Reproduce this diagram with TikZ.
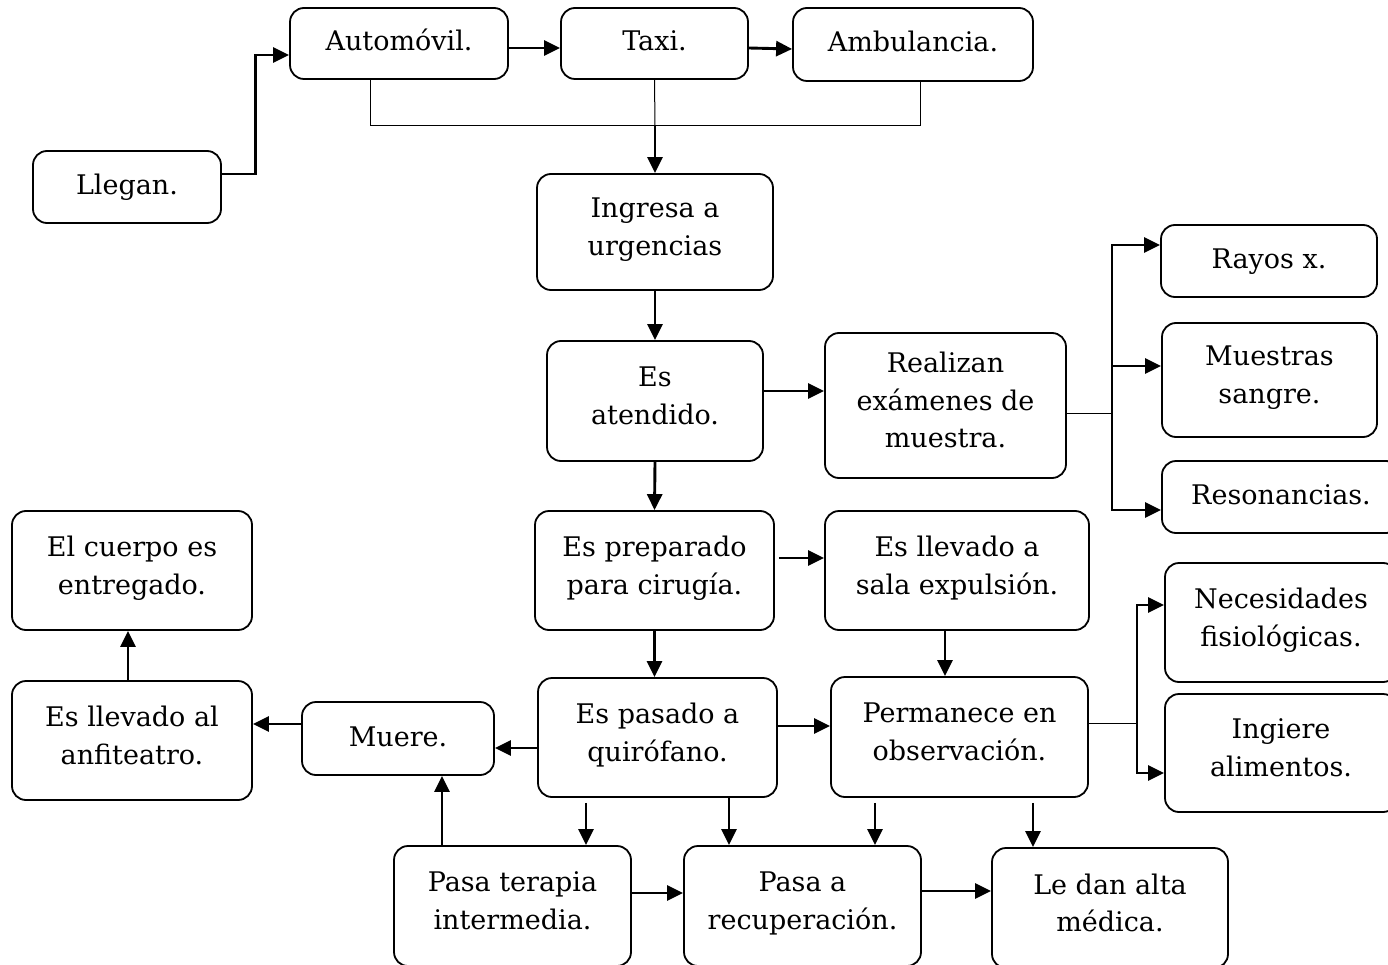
\documentclass[tikz,border=0pt]{standalone}
\usepackage{fontspec}
\setmainfont{DejaVu Serif}
\usetikzlibrary{arrows.meta,calc}
\begin{document}
\begin{tikzpicture}[x=1pt,y=-1pt,
  box/.style={draw,line width=1.8pt,rounded corners=14pt,align=center,
    inner sep=0pt,font=\fontsize{27}{37.5}\selectfont,
    execute at begin node=\rule{0pt}{26pt},
    execute at end node=\rule[-11pt]{0pt}{11pt}},
  arr/.style={line width=2.9pt,-{Triangle[length=16pt,width=15pt]}},
  link/.style={line width=1pt}]
\useasboundingbox (0,0) rectangle (1388,965);

% boxes
\node[box,minimum width=188pt,minimum height=72pt]  (llegan)   at (127,187)    {Llegan.};
\node[box,minimum width=218pt,minimum height=71pt]  (auto)     at (399,43.5)   {Automóvil.};
\node[box,minimum width=187pt,minimum height=71pt]  (taxi)     at (654.5,43.5) {Taxi.};
\node[box,minimum width=240pt,minimum height=73pt]  (ambu)     at (913,44.5)   {Ambulancia.};
\node[box,minimum width=236pt,minimum height=116pt] (ingresa)  at (655,232)    {Ingresa a\\urgencias};
\node[box,minimum width=216pt,minimum height=120pt] (atendido) at (655,401)    {Es\\atendido.};
\node[box,minimum width=241pt,minimum height=145pt] (realizan) at (945.5,405.5){Realizan\\exámenes de\\muestra.};
\node[box,minimum width=216pt,minimum height=72pt]  (rayos)    at (1269,261)   {Rayos x.};
\node[box,minimum width=215pt,minimum height=114pt] (muestras) at (1269.5,380) {Muestras\\sangre.};
\node[box,minimum width=238pt,minimum height=72pt]  (reson)    at (1281,497)   {Resonancias.};
\node[box,minimum width=240pt,minimum height=119pt] (cuerpo)   at (132,570.5)  {El cuerpo es\\entregado.};
\node[box,minimum width=239pt,minimum height=119pt] (prep)     at (654.5,570.5){Es preparado\\para cirugía.};
\node[box,minimum width=264pt,minimum height=119pt] (sala)     at (957,570.5)  {Es llevado a\\sala expulsión.};
\node[box,minimum width=232pt,minimum height=119pt] (necesid)  at (1281,622.5) {Necesidades\\fisiológicas.};
\node[box,minimum width=232pt,minimum height=118pt] (ingiere)  at (1281,753)   {Ingiere\\alimentos.};
\node[box,minimum width=240pt,minimum height=119pt] (anfi)     at (132,740.5)  {Es llevado al\\anfiteatro.};
\node[box,minimum width=192pt,minimum height=73pt]  (muere)    at (398,738.5)  {Muere.};
\node[box,minimum width=239pt,minimum height=119pt] (quiro)    at (657.5,737.5){Es pasado a\\quirófano.};
\node[box,minimum width=257pt,minimum height=120pt] (observ)   at (959.5,737)  {Permanece en\\observación.};
\node[box,minimum width=237pt,minimum height=120pt] (terapia)  at (512.5,906)  {Pasa terapia\\intermedia.};
\node[box,minimum width=237pt,minimum height=120pt] (recup)    at (802.5,906)  {Pasa a\\recuperación.};
\node[box,minimum width=236pt,minimum height=120pt] (alta)     at (1110,908)   {Le dan alta\\médica.};

% arrival and means of transport
\draw[arr] ([yshift=13pt]llegan.east) -- ++(34,0) |- ([yshift=-11.5pt]auto.west);
\draw[arr] ([yshift=-4.5pt]auto.east) -- ([yshift=-4.5pt]taxi.west);
\draw[arr] ([yshift=-4.5pt]taxi.east) -- ([yshift=-4.5pt]ambu.west);
\coordinate (jt) at (655,126);
\draw[link] ([xshift=-29pt]auto.south) |- (jt);
\draw[link] ([xshift=7pt]ambu.south) |- (jt);
\draw[link] (taxi.south) -- (jt);
\draw[arr] (jt) -- (ingresa.north);

% emergency room
\draw[arr] (ingresa.south) -- (atendido.north);
\coordinate (s1) at ([yshift=10pt]atendido.east);
\draw[arr] (s1) -- (s1 -| realizan.west);
\coordinate (br) at (1112,413);
\draw[link] ([yshift=-7.5pt]realizan.east) -- (br);
\draw[arr] (br) |- ([yshift=16pt]rayos.west);
\draw[arr] (br) |- ([yshift=14pt]muestras.west);
\draw[arr] (br) |- ([yshift=-13pt]reson.west);
\draw[arr] (atendido.south) -- (prep.north);

% surgery or delivery
\coordinate (s2) at ([xshift=4pt,yshift=12.5pt]prep.east);
\draw[arr] (s2) -- (s2 -| sala.west);
\coordinate (s3) at ([xshift=-12pt]sala.south);
\draw[arr] (s3) -- (s3 |- observ.north);
\draw[arr] (prep.south) -- (prep.south |- quiro.north);
\coordinate (s4) at ([yshift=11.5pt]quiro.east);
\draw[arr] (s4) -- (s4 -| observ.west);
\coordinate (bp) at (1137,723);
\draw[link] ([yshift=14pt]observ.east) -- (bp);
\draw[arr] (bp) |- ([yshift=17.5pt]necesid.west);
\draw[arr] (bp) |- ([yshift=-20pt]ingiere.west);

% death branch
\coordinate (s5) at ([yshift=-10.5pt]quiro.west);
\draw[arr] (s5) -- (s5 -| muere.east);
\coordinate (s6) at ([yshift=14.5pt]muere.west);
\draw[arr] (s6) -- (s6 -| anfi.east);
\coordinate (s7) at ([xshift=-4pt]anfi.north);
\draw[arr] (s7) -- (s7 |- cuerpo.south);
\coordinate (s8) at ([xshift=-70.5pt]terapia.north);
\draw[arr] (s8) -- (s8 |- muere.south);

% recovery and discharge
\coordinate (q1) at ([xshift=-71.5pt,yshift=-5pt]quiro.south);
\draw[arr] (q1) -- (q1 |- terapia.north);
\coordinate (q2) at ([xshift=71.5pt]quiro.south);
\draw[arr] (q2) -- (q2 |- recup.north);
\coordinate (o1) at ([xshift=-84.5pt,yshift=-5pt]observ.south);
\draw[arr] (o1) -- (o1 |- recup.north);
\coordinate (o2) at ([xshift=73.5pt,yshift=-5pt]observ.south);
\draw[arr] (o2) -- (o2 |- alta.north);
\coordinate (t1) at ([yshift=13pt]terapia.east);
\draw[arr] (t1) -- (t1 -| recup.west);
\coordinate (t2) at ([yshift=15pt]recup.east);
\draw[arr] (t2) -- (t2 -| alta.west);
\end{tikzpicture}
\end{document}
